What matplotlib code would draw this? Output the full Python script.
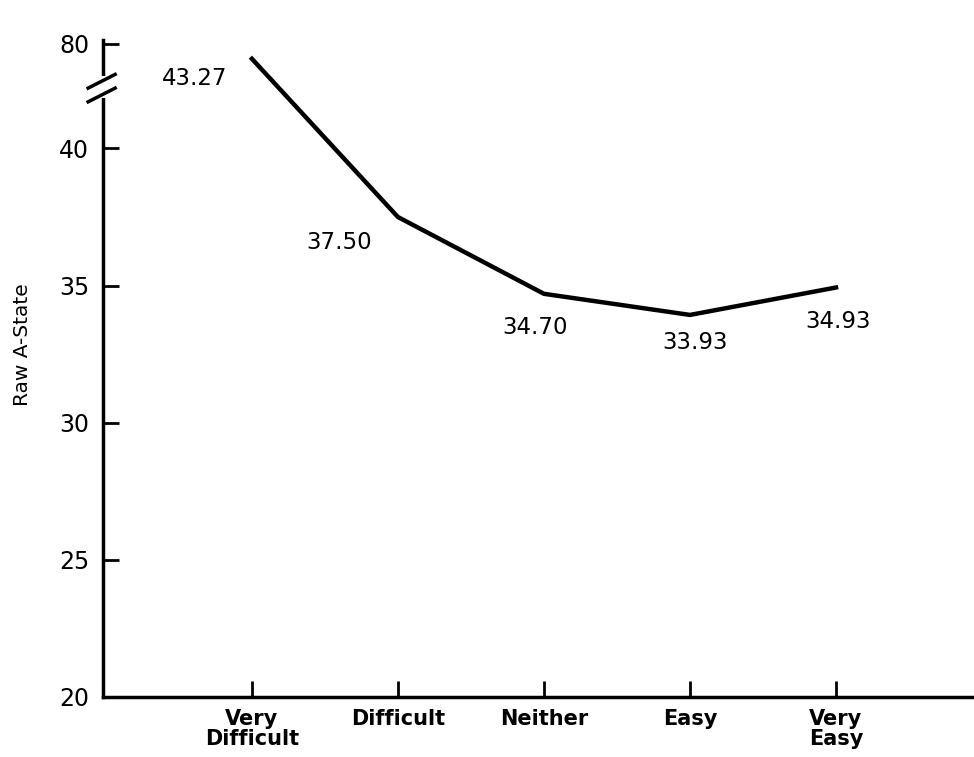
import numpy as np
import matplotlib.pyplot as plt

# data
categories = ["Very\nDifficult", "Difficult", "Neither", "Easy", "Very\nEasy"]
scores = [43.27, 37.50, 34.70, 33.93, 34.93]
score_labels = ["43.27", "37.50", "34.70", "33.93", "34.93"]
ytick_values = [20, 25, 30, 35, 40]

# label offsets in pixels from each point
offsets = [(-57, -20), (-59, -25), (-9, -34), (5, -28), (2, -34)]

fig = plt.figure(figsize=(9.74, 7.57), dpi=100)
ax = fig.add_axes([0.1057, 0.0793, 0.8943, 0.8677])

x = np.arange(len(categories))
ax.plot(x, scores, color="black", lw=3.2, solid_joinstyle="round")

for xi, yi, lab, off in zip(x, scores, score_labels, offsets):
    ax.annotate(lab, (xi, yi), xytext=off, textcoords="offset pixels",
                ha="center", va="center", fontsize=16.5)

ax.set_xlim(-1.02, 4.945)
ax.set_ylim(20, 43.95)

# broken axis: top tick stands for 80
ax.set_yticks(ytick_values + [43.82])
ax.set_yticklabels([str(v) for v in ytick_values] + ["80"], fontsize=17)
ax.set_xticks(x)
ax.set_xticklabels(categories, fontsize=15, fontweight="bold", linespacing=1.0)

ax.tick_params(axis="both", direction="in", length=11.5, width=2)
ax.tick_params(axis="y", pad=10)
ax.tick_params(axis="x", pad=9)

for s in ["top", "right"]:
    ax.spines[s].set_visible(False)
for s in ["left", "bottom"]:
    ax.spines[s].set_linewidth(2.5)

# break marks on the y axis
trans = ax.get_yaxis_transform()
ax.plot([0, 0], [42.0, 42.55], transform=trans, color="white", lw=5, clip_on=False, zorder=5)
for y0 in (41.95, 42.45):
    ax.plot([-0.017, 0.014], [y0 - 0.25, y0 + 0.25], transform=trans,
            color="black", lw=2.5, clip_on=False, zorder=6)

ax.set_ylabel("Raw A-State", fontsize=14.5)
ax.yaxis.set_label_coords(-0.082, 0.536)

fig.savefig("out.png", dpi=100)
